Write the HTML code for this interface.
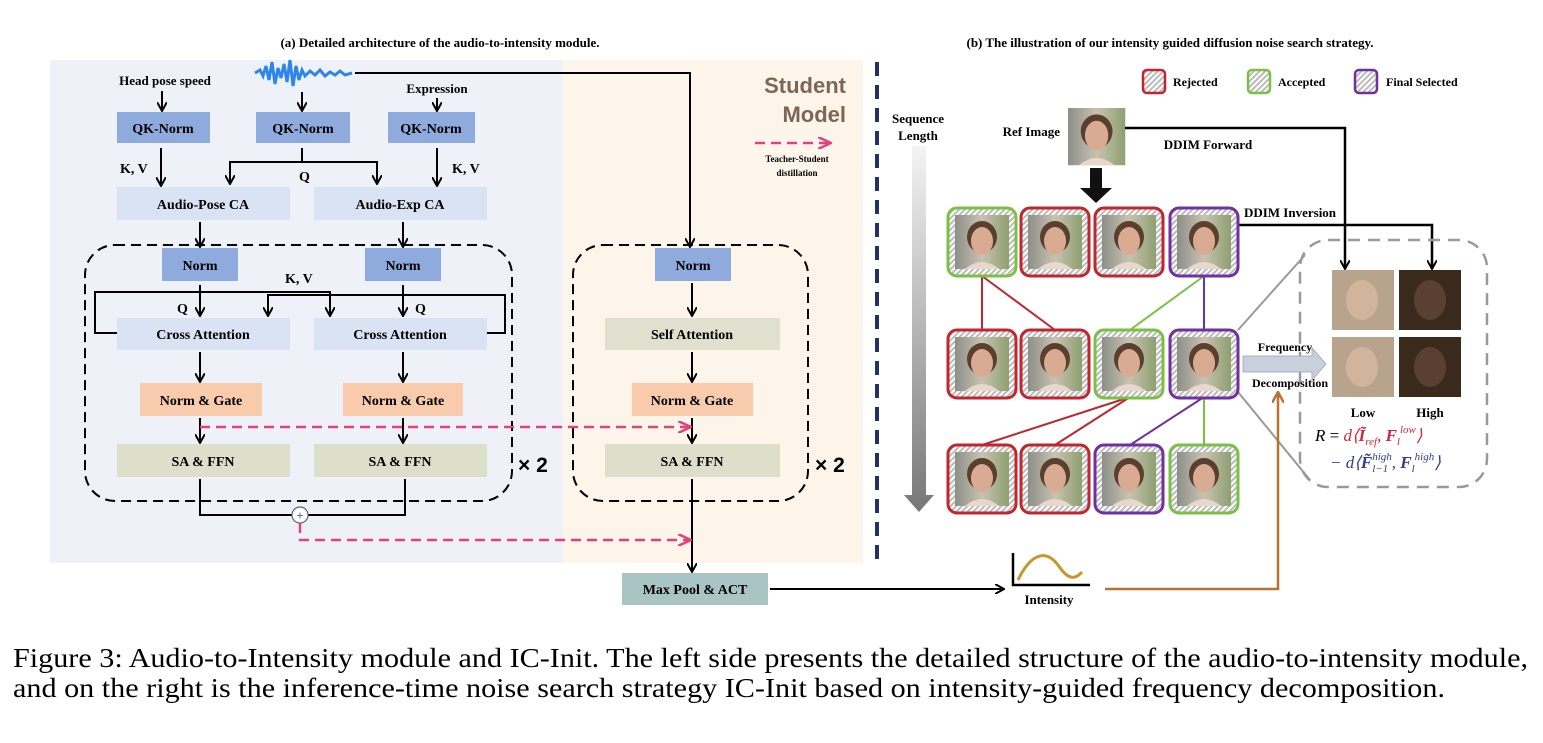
<!DOCTYPE html>
<html><head><meta charset="utf-8"><style>
body{margin:0;background:#fff;}
svg text{font-family:"Liberation Serif",serif;font-weight:bold;}
</style></head><body>
<svg width="1543" height="738" viewBox="0 0 1543 738" xmlns="http://www.w3.org/2000/svg">
<defs>
<marker id="ah" markerWidth="10" markerHeight="10" refX="8" refY="5" orient="auto" markerUnits="userSpaceOnUse"><path d="M0,0 L9,5 L0,10" fill="none" stroke="#000" stroke-width="2"/></marker>
<marker id="ap" markerWidth="14" markerHeight="12" refX="12" refY="6" orient="auto" markerUnits="userSpaceOnUse"><path d="M0,0 L13,6 L0,12" fill="none" stroke="#e0427a" stroke-width="2.5"/></marker>
<marker id="ab" markerWidth="12" markerHeight="12" refX="10" refY="6" orient="auto" markerUnits="userSpaceOnUse"><path d="M0,0 L11,6 L0,12" fill="none" stroke="#b87333" stroke-width="2.5"/></marker>
<linearGradient id="bg" x1="0" x2="1"><stop offset="0" stop-color="#8d8f88"/><stop offset=".5" stop-color="#c9c2b2"/><stop offset="1" stop-color="#8ea070"/></linearGradient>
<linearGradient id="seq" x1="0" x2="0" y1="0" y2="1"><stop offset="0" stop-color="#f4f4f4"/><stop offset="1" stop-color="#777"/></linearGradient>
<pattern id="hatch" width="4" height="4" patternUnits="userSpaceOnUse" patternTransform="rotate(45)"><rect width="4" height="4" fill="#fff"/><rect width="2" height="4" fill="#bbb"/></pattern>
<g id="face">
<rect x="0" y="0" width="54" height="54" fill="url(#bg)"/>
<ellipse cx="27" cy="22" rx="15" ry="16" fill="#5a3f2e"/>
<ellipse cx="27" cy="26" rx="11" ry="14" fill="#d9ab92"/>
<path d="M10,54 Q27,40 44,54Z" fill="#e8d8cc"/>
</g>
<g id="fr"><rect x="0" y="0" width="68" height="68" rx="9" fill="url(#hatch)"/><use href="#face" x="7" y="7"/></g>
</defs>

<text x="440" y="47" font-size="13" text-anchor="middle">(a) Detailed architecture of the audio-to-intensity module.</text>
<text x="1170" y="47" font-size="13" text-anchor="middle">(b) The illustration of our intensity guided diffusion noise search strategy.</text>

<rect x="50" y="60" width="513" height="503" fill="#eef2f8"/>
<rect x="563" y="60" width="300" height="503" fill="#fdf5ea"/>
<line x1="877" y1="62" x2="877" y2="560" stroke="#1f3366" stroke-width="4" stroke-dasharray="14,9"/>

<path d="M255,73 L260,70 263,76 266,66 269,80 272,62 275,84 278,68 281,78 284,64 287,82 290,60 293,86 296,66 299,80 302,70 305,76 310,71 315,75 320,70 325,76 330,72 335,75 340,71 345,75 352,73" fill="none" stroke="#2f86e8" stroke-width="3"/>
<text x="165" y="85" font-size="13" text-anchor="middle">Head pose speed</text>
<text x="437" y="93" font-size="13" text-anchor="middle">Expression</text>

<g fill="#000" font-size="14">
<g stroke="#000" stroke-width="2" fill="none">
<line x1="162" y1="91" x2="162" y2="110" marker-end="url(#ah)"/>
<line x1="302" y1="92" x2="302" y2="110" marker-end="url(#ah)"/>
<line x1="437" y1="98" x2="437" y2="110" marker-end="url(#ah)"/>
<line x1="161" y1="148" x2="161" y2="185" marker-end="url(#ah)"/>
<line x1="437" y1="148" x2="437" y2="185" marker-end="url(#ah)"/>
<path d="M302,148 V162 H230 V183" marker-end="url(#ah)"/>
<path d="M302,162 H377 V183" marker-end="url(#ah)"/>
<line x1="200" y1="222" x2="200" y2="246" marker-end="url(#ah)"/>
<line x1="403" y1="222" x2="403" y2="246" marker-end="url(#ah)"/>
<line x1="200" y1="285" x2="200" y2="315" marker-end="url(#ah)"/>
<line x1="403" y1="285" x2="403" y2="315" marker-end="url(#ah)"/>
<path d="M117,333 H95 V292 H330 V315" marker-end="url(#ah)"/>
<path d="M487,333 H505 V295 H268 V315" marker-end="url(#ah)"/>
<line x1="200" y1="352" x2="200" y2="381" marker-end="url(#ah)"/>
<line x1="403" y1="352" x2="403" y2="381" marker-end="url(#ah)"/>
<line x1="200" y1="418" x2="200" y2="442" marker-end="url(#ah)"/>
<line x1="403" y1="418" x2="403" y2="442" marker-end="url(#ah)"/>
<path d="M200,479 V515 H405 V479"/>
<path d="M355,73 H690 V246" marker-end="url(#ah)"/>
<line x1="692" y1="283" x2="692" y2="315" marker-end="url(#ah)"/>
<line x1="692" y1="352" x2="692" y2="381" marker-end="url(#ah)"/>
<line x1="692" y1="418" x2="692" y2="442" marker-end="url(#ah)"/>
<line x1="692" y1="479" x2="692" y2="571" marker-end="url(#ah)"/>
<line x1="770" y1="589" x2="1003" y2="589" marker-end="url(#ah)"/>
</g>
<circle cx="300" cy="515" r="8" fill="#fff" stroke="#666" stroke-width="1.2"/>
<text x="300" y="520" font-size="13" text-anchor="middle" fill="#666">+</text>
<text x="120" y="173">K, V</text><text x="452" y="173">K, V</text>
<text x="299" y="181">Q</text>
<text x="285" y="283">K, V</text>
<text x="177" y="313">Q</text><text x="415" y="313">Q</text>
</g>

<g stroke="#000" stroke-width="2" fill="none" stroke-dasharray="10,6">
<rect x="85" y="245" width="427" height="256" rx="30"/>
<rect x="573" y="245" width="235" height="256" rx="30"/>
</g>

<g font-size="14" text-anchor="middle">
<rect x="117" y="112" width="93" height="31" fill="#8faadc"/><text x="163" y="133">QK-Norm</text>
<rect x="256" y="112" width="94" height="31" fill="#8faadc"/><text x="303" y="133">QK-Norm</text>
<rect x="388" y="112" width="87" height="31" fill="#8faadc"/><text x="431" y="133">QK-Norm</text>
<rect x="117" y="187" width="173" height="33" fill="#dae3f3"/><text x="203" y="209">Audio-Pose CA</text>
<rect x="314" y="187" width="173" height="33" fill="#dae3f3"/><text x="400" y="209">Audio-Exp CA</text>
<rect x="162" y="248" width="76" height="33" fill="#8faadc"/><text x="200" y="270">Norm</text>
<rect x="365" y="248" width="76" height="33" fill="#8faadc"/><text x="403" y="270">Norm</text>
<rect x="117" y="318" width="173" height="32" fill="#dae3f3"/><text x="203" y="339">Cross Attention</text>
<rect x="314" y="318" width="173" height="32" fill="#dae3f3"/><text x="400" y="339">Cross Attention</text>
<rect x="140" y="383" width="122" height="33" fill="#f8cbad"/><text x="201" y="405">Norm &amp; Gate</text>
<rect x="343" y="383" width="120" height="33" fill="#f8cbad"/><text x="403" y="405">Norm &amp; Gate</text>
<rect x="117" y="444" width="173" height="33" fill="#dedfcb"/><text x="203" y="466">SA &amp; FFN</text>
<rect x="314" y="444" width="173" height="33" fill="#dedfcb"/><text x="400" y="466">SA &amp; FFN</text>
<rect x="655" y="248" width="76" height="33" fill="#8faadc"/><text x="693" y="270">Norm</text>
<rect x="605" y="318" width="175" height="32" fill="#dfe0cd"/><text x="692" y="339">Self Attention</text>
<rect x="632" y="383" width="121" height="33" fill="#f8cbad"/><text x="692" y="405">Norm &amp; Gate</text>
<rect x="605" y="444" width="175" height="33" fill="#dedfcb"/><text x="692" y="466">SA &amp; FFN</text>
<rect x="622" y="573" width="146" height="32" fill="#a9c4c4"/><text x="695" y="594">Max Pool &amp; ACT</text>
</g>
<text x="518" y="472" font-size="21" style="font-family:'Liberation Sans',sans-serif">× 2</text>
<text x="815" y="472" font-size="21" style="font-family:'Liberation Sans',sans-serif">× 2</text>

<g stroke="#e0427a" stroke-width="2.5" fill="none" stroke-dasharray="10,6">
<path d="M200,427 H690" marker-end="url(#ap)"/>
<path d="M300,523 V540 H690" marker-end="url(#ap)"/>
<path d="M755,143 H830" marker-end="url(#ap)"/>
</g>
<text x="846" y="93" font-size="22" text-anchor="end" fill="#7b6658" style="font-family:'Liberation Sans',sans-serif">Student</text>
<text x="846" y="122" font-size="22" text-anchor="end" fill="#7b6658" style="font-family:'Liberation Sans',sans-serif">Model</text>
<text x="797" y="162" font-size="9" text-anchor="middle">Teacher-Student</text>
<text x="797" y="176" font-size="9" text-anchor="middle">distillation</text>

<g font-size="12">
<rect x="1143" y="70" width="22" height="23" rx="4" fill="url(#hatch)" stroke="#c0262f" stroke-width="2.5"/><text x="1173" y="86">Rejected</text>
<rect x="1248" y="70" width="22" height="23" rx="4" fill="url(#hatch)" stroke="#7ac143" stroke-width="2.5"/><text x="1278" y="86">Accepted</text>
<rect x="1355" y="70" width="22" height="23" rx="4" fill="url(#hatch)" stroke="#7030a0" stroke-width="2.5"/><text x="1386" y="86">Final Selected</text>
</g>
<text x="918" y="123" font-size="13" text-anchor="middle">Sequence</text>
<text x="918" y="140" font-size="13" text-anchor="middle">Length</text>
<path d="M912,146 H926 V495 H934 L919,512 L904,495 H912Z" fill="url(#seq)"/>
<text x="1060" y="136" font-size="13" text-anchor="end">Ref Image</text>
<use href="#face" transform="translate(1068,108) scale(1.06)"/>
<text x="1208" y="149" font-size="13" text-anchor="middle">DDIM Forward</text>
<text x="1290" y="217" font-size="13" text-anchor="middle">DDIM Inversion</text>
<path d="M1090,168 H1102 V188 H1112 L1096,203 L1080,188 H1090Z" fill="#111"/>
<g stroke="#000" stroke-width="2.5" fill="none">
<path d="M1125,128 H1345 V268" marker-end="url(#ah)"/>
<path d="M1238,225 H1432 V268" marker-end="url(#ah)"/>
</g>

<g stroke-width="2" fill="none">
<line x1="982" y1="276" x2="982" y2="330" stroke="#c0262f"/>
<line x1="982" y1="276" x2="1055" y2="330" stroke="#c0262f"/>
<line x1="1204" y1="276" x2="1130" y2="330" stroke="#7ac143"/>
<line x1="1204" y1="276" x2="1204" y2="330" stroke="#7030a0"/>
<line x1="1130" y1="397" x2="982" y2="445" stroke="#c0262f"/>
<line x1="1130" y1="397" x2="1055" y2="445" stroke="#c0262f"/>
<line x1="1204" y1="397" x2="1130" y2="445" stroke="#7030a0"/>
<line x1="1204" y1="397" x2="1204" y2="445" stroke="#7ac143"/>
<line x1="1238" y1="330" x2="1305" y2="255" stroke="#999"/>
<line x1="1238" y1="392" x2="1310" y2="480" stroke="#999"/>
</g>
<g>
<use href="#fr" x="948" y="208"/><rect x="948" y="208" width="68" height="68" rx="9" fill="none" stroke="#7ac143" stroke-width="3"/>
<use href="#fr" x="1021" y="208"/><rect x="1021" y="208" width="68" height="68" rx="9" fill="none" stroke="#c0262f" stroke-width="3"/>
<use href="#fr" x="1095" y="208"/><rect x="1095" y="208" width="68" height="68" rx="9" fill="none" stroke="#c0262f" stroke-width="3"/>
<use href="#fr" x="1170" y="208"/><rect x="1170" y="208" width="68" height="68" rx="9" fill="none" stroke="#7030a0" stroke-width="3"/>
<use href="#fr" x="948" y="330"/><rect x="948" y="330" width="68" height="68" rx="9" fill="none" stroke="#c0262f" stroke-width="3"/>
<use href="#fr" x="1021" y="330"/><rect x="1021" y="330" width="68" height="68" rx="9" fill="none" stroke="#c0262f" stroke-width="3"/>
<use href="#fr" x="1095" y="330"/><rect x="1095" y="330" width="68" height="68" rx="9" fill="none" stroke="#7ac143" stroke-width="3"/>
<use href="#fr" x="1170" y="330"/><rect x="1170" y="330" width="68" height="68" rx="9" fill="none" stroke="#7030a0" stroke-width="3"/>
<use href="#fr" x="948" y="445"/><rect x="948" y="445" width="68" height="68" rx="9" fill="none" stroke="#c0262f" stroke-width="3"/>
<use href="#fr" x="1021" y="445"/><rect x="1021" y="445" width="68" height="68" rx="9" fill="none" stroke="#c0262f" stroke-width="3"/>
<use href="#fr" x="1095" y="445"/><rect x="1095" y="445" width="68" height="68" rx="9" fill="none" stroke="#7030a0" stroke-width="3"/>
<use href="#fr" x="1170" y="445"/><rect x="1170" y="445" width="68" height="68" rx="9" fill="none" stroke="#7ac143" stroke-width="3"/>
</g>

<rect x="1300" y="240" width="187" height="247" rx="28" fill="none" stroke="#999" stroke-width="2.5" stroke-dasharray="12,8"/>
<g>
<rect x="1332" y="270" width="62" height="60" fill="#b8a48c"/><ellipse cx="1362" cy="300" rx="16" ry="20" fill="#d8b8a0" opacity=".8"/>
<rect x="1399" y="270" width="62" height="60" fill="#3a2a1c"/><ellipse cx="1430" cy="300" rx="16" ry="20" fill="#5a4030"/>
<rect x="1332" y="337" width="62" height="60" fill="#b8a48c"/><ellipse cx="1362" cy="367" rx="16" ry="20" fill="#d8b8a0" opacity=".8"/>
<rect x="1399" y="337" width="62" height="60" fill="#3a2a1c"/><ellipse cx="1430" cy="367" rx="16" ry="20" fill="#5a4030"/>
</g>
<path d="M1243,356 H1312 V348 L1326,364 L1312,380 V372 H1243Z" fill="#c9d0dc" stroke="#a8b0c0"/>
<text x="1285" y="351" font-size="12" text-anchor="middle">Frequency</text>
<text x="1290" y="387" font-size="12" text-anchor="middle">Decomposition</text>
<text x="1363" y="417" font-size="13" text-anchor="middle">Low</text>
<text x="1430" y="417" font-size="13" text-anchor="middle">High</text>
<text x="1315" y="441" font-size="17" style="font-weight:normal;font-style:italic">R <tspan font-style="normal">=</tspan> <tspan fill="#d0263a">d⟨<tspan font-weight="bold">Ĩ</tspan><tspan font-size="11" dy="4">ref</tspan><tspan dy="-4">, </tspan><tspan font-weight="bold">F</tspan><tspan font-size="11" dy="4">l</tspan><tspan font-size="11" dy="-12">low</tspan><tspan dy="8">⟩</tspan></tspan></text>
<text x="1330" y="468" font-size="17" fill="#2e3d8f" style="font-weight:normal;font-style:italic">− d⟨<tspan font-weight="bold">F̃</tspan><tspan font-size="11" dy="4">l−1</tspan><tspan font-size="11" dx="-16" dy="-12">high</tspan><tspan dy="8">, </tspan><tspan font-weight="bold">F</tspan><tspan font-size="11" dy="4">l</tspan><tspan font-size="11" dy="-12">high</tspan><tspan dy="8">⟩</tspan></text>

<path d="M1013,553 V585 H1090" fill="none" stroke="#000" stroke-width="2.5"/>
<path d="M1018,580 C1030,555 1045,548 1058,565 C1068,580 1075,580 1082,572" fill="none" stroke="#c8962a" stroke-width="3"/>
<text x="1049" y="604" font-size="13" text-anchor="middle">Intensity</text>
<path d="M1105,589 H1278 V393" fill="none" stroke="#b87333" stroke-width="2.5" marker-end="url(#ab)"/>

<text x="13" y="667" font-size="27" textLength="1515" lengthAdjust="spacingAndGlyphs" style="font-weight:normal">Figure 3: Audio-to-Intensity module and IC-Init. The left side presents the detailed structure of the audio-to-intensity module,</text>
<text x="13" y="697" font-size="27" textLength="1432" lengthAdjust="spacingAndGlyphs" style="font-weight:normal">and on the right is the inference-time noise search strategy IC-Init based on intensity-guided frequency decomposition.</text>
</svg>
</body></html>
